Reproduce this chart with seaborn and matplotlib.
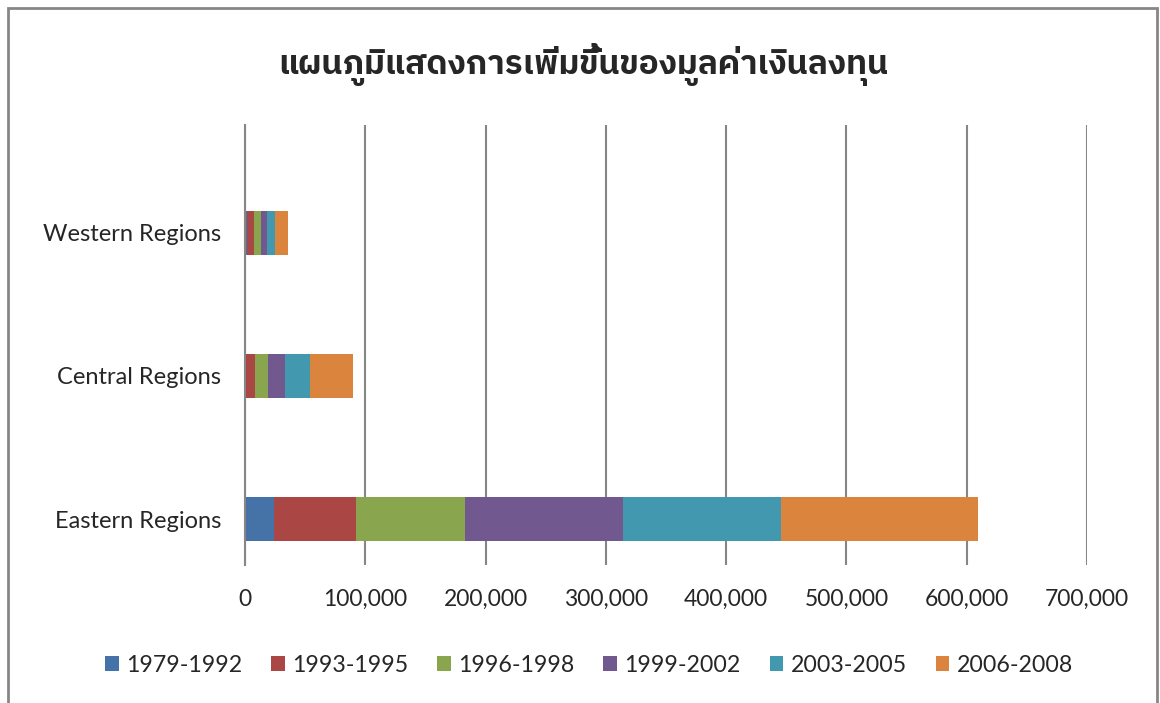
import numpy as np
import pandas as pd
import seaborn as sns
import matplotlib.pyplot as plt
from matplotlib.patches import Patch, Rectangle

regions = ["Western Regions", "Central Regions", "Eastern Regions"]
periods = ["1979-1992", "1993-1995", "1996-1998", "1999-2002", "2003-2005", "2006-2008"]
v_1979_1992 = [1500, 800, 23750]
v_1993_1995 = [6000, 7500, 68300]
v_1996_1998 = [5500, 10700, 91200]
v_1999_2002 = [5500, 14300, 130600]
v_2003_2005 = [6100, 20600, 131900]
v_2006_2008 = [11000, 36300, 163700]
colors = ["#4572A7", "#AA4643", "#89A54E", "#71588F", "#4198AF", "#DB843D"]
title = "แผนภูมิแสดงการเพิ่มขึ้นของมูลค่าเงินลงทุน"

series = [v_1979_1992, v_1993_1995, v_1996_1998, v_1999_2002, v_2003_2005, v_2006_2008]
cum = np.cumsum(np.array(series), axis=0)

sns.set_style("white")
plt.rcParams['font.family'] = ['Lato', 'DejaVu Sans']

fig = plt.figure(figsize=(11.6, 7.03), dpi=100)
ax = fig.add_axes([245 / 1160, 1 - 565 / 703, (1087 - 245) / 1160, 440 / 703])

# layered cumulative bars, longest first so the earlier periods sit on top
for i in range(len(periods) - 1, -1, -1):
    df = pd.DataFrame({"region": regions, "value": cum[i]})
    sns.barplot(data=df, x="value", y="region", orient="h", color=colors[i],
                width=0.31, saturation=1, ax=ax, linewidth=0)

ax.set_xlim(0, 700000)
ax.set_ylim(2 + 46 / 143, -108 / 143)
ax.set_xticks(np.arange(0, 700001, 100000))
ax.set_xticklabels([f"{int(v):,}" for v in np.arange(0, 700001, 100000)], fontsize=16.5)
ax.tick_params(axis="y", labelsize=17, pad=17, length=0)
ax.tick_params(axis="x", pad=17, length=0)
ax.set_xlabel("")
ax.set_ylabel("")
ax.xaxis.grid(True, color="#868686", linewidth=1.5)
ax.set_axisbelow(True)
for s in ["top", "right", "bottom"]:
    ax.spines[s].set_visible(False)
ax.spines["left"].set_color("#868686")
ax.spines["left"].set_linewidth(1.5)

fig.text(583 / 1160, 1 - 64 / 703, title, ha="center", va="center",
         fontsize=24, fontweight="bold",
         family=['IBM Plex Sans Thai', 'Noto Sans Thai', 'DejaVu Sans'])

handles = [Patch(facecolor=c, edgecolor="none") for c in colors]
fig.legend(handles, periods, loc="center", bbox_to_anchor=(589 / 1160, 1 - 665 / 703),
           ncol=6, frameon=False, fontsize=16.7, handlelength=0.6, handleheight=0.6,
           handletextpad=0.3, columnspacing=1.25)

fig.patches.append(Rectangle((8 / 1160, -0.01), (1157 - 8) / 1160, 1 - 8 / 703 + 0.01,
                             transform=fig.transFigure, fill=False,
                             edgecolor="#868686", linewidth=2))

fig.savefig("out.png", dpi=100)
